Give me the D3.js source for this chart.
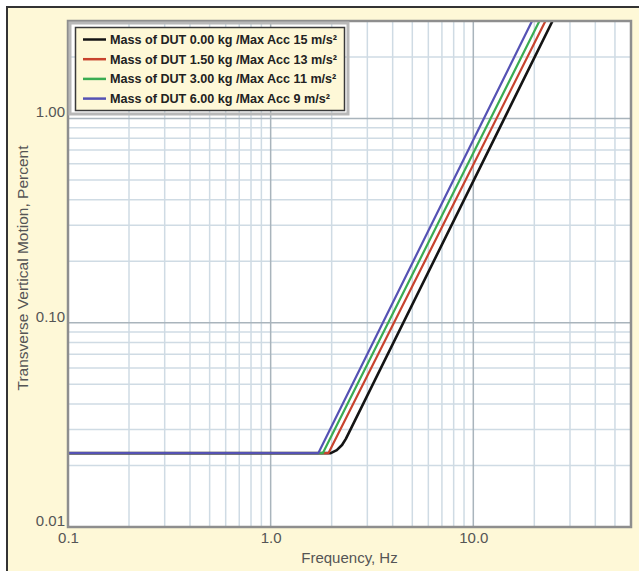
<!DOCTYPE html>
<html lang="en">
<head>
<meta charset="utf-8">
<title>Transverse Vertical Motion</title>
<script src="https://d3js.org/d3.v7.min.js"></script>
<style>
  body { margin: 0; background: #fff; }
  svg text { font-family: "Liberation Sans", Arial, sans-serif; }
</style>
</head>
<body>
<script>
// data
const seriesNames = [
  "Mass of DUT 0.00 kg /Max Acc 15 m/s\u00b2",
  "Mass of DUT 1.50 kg /Max Acc 13 m/s\u00b2",
  "Mass of DUT 3.00 kg /Max Acc 11 m/s\u00b2",
  "Mass of DUT 6.00 kg /Max Acc 9 m/s\u00b2"
];
const mass000 = [[0.1, 0.023], [1.98, 0.023], [2.12, 0.0238], [2.25, 0.0252], [2.35, 0.027], [24.6, 3.0]];
const mass150 = [[0.1, 0.023], [1.93, 0.023], [22.7, 3.0]];
const mass300 = [[0.1, 0.023], [1.81, 0.023], [21.2, 3.0]];
const mass600 = [[0.1, 0.023], [1.72, 0.023], [19.5, 3.0]];
const seriesData = [mass000, mass150, mass300, mass600];
const seriesColors = ["#141414", "#c8432e", "#3aac52", "#5552b4"];

const xTicks = [0.1, 1, 10];
const xTickLabels = ["0.1", "1.0", "10.0"];
const yTicks = [0.01, 0.1, 1];
const yTickLabels = ["0.01", "0.10", "1.00"];
const xDomain = [0.1, 60];
const yDomain = [0.01, 3];

const W = 639, H = 571;
const plot = { left: 68, right: 631, top: 21, bottom: 527 };

const svg = d3.select("body").append("svg")
  .attr("width", W).attr("height", H);

// page background + frame lines
svg.append("rect").attr("x", 7).attr("y", 7).attr("width", W - 7).attr("height", H - 7)
  .attr("fill", "#fef8d7");
svg.append("line").attr("x1", 6).attr("x2", W).attr("y1", 7).attr("y2", 7)
  .attr("stroke", "#333").attr("stroke-width", 2);
svg.append("line").attr("x1", 7).attr("x2", 7).attr("y1", 6).attr("y2", H)
  .attr("stroke", "#333").attr("stroke-width", 2);

const x = d3.scaleLog().domain(xDomain).range([plot.left, plot.right]);
const y = d3.scaleLog().domain(yDomain).range([plot.bottom, plot.top]);

svg.append("rect")
  .attr("x", plot.left).attr("y", plot.top)
  .attr("width", plot.right - plot.left).attr("height", plot.bottom - plot.top)
  .attr("fill", "#fff");

// grid lines, minor then major
const xMinor = [];
for (const dec of [0.1, 1, 10]) for (let k = 2; k <= 9; k++) if (dec * k <= xDomain[1]) xMinor.push(dec * k);
const yMinor = [];
for (const dec of [0.01, 0.1, 1]) for (let k = 2; k <= 9; k++) if (dec * k <= yDomain[1]) yMinor.push(dec * k);

const grid = svg.append("g");
grid.selectAll(".vx").data(xMinor).join("line")
  .attr("x1", d => x(d)).attr("x2", d => x(d))
  .attr("y1", plot.top).attr("y2", plot.bottom)
  .attr("stroke", "#cfdbe4").attr("stroke-width", 1.5);
grid.selectAll(".hy").data(yMinor).join("line")
  .attr("y1", d => y(d)).attr("y2", d => y(d))
  .attr("x1", plot.left).attr("x2", plot.right)
  .attr("stroke", "#cfdbe4").attr("stroke-width", 1.5);
grid.selectAll(".vX").data(xTicks).join("line")
  .attr("x1", d => x(d)).attr("x2", d => x(d))
  .attr("y1", plot.top).attr("y2", plot.bottom)
  .attr("stroke", "#a9b4bc").attr("stroke-width", 1.5);
grid.selectAll(".hY").data(yTicks).join("line")
  .attr("y1", d => y(d)).attr("y2", d => y(d))
  .attr("x1", plot.left).attr("x2", plot.right)
  .attr("stroke", "#a9b4bc").attr("stroke-width", 1.5);

// curves
svg.append("clipPath").attr("id", "clip").append("rect")
  .attr("x", plot.left).attr("y", plot.top)
  .attr("width", plot.right - plot.left).attr("height", plot.bottom - plot.top);

const line = d3.line().x(d => x(d[0])).y(d => y(d[1])).curve(d3.curveLinear);
svg.append("g").attr("clip-path", "url(#clip)")
  .selectAll("path").data(seriesData).join("path")
  .attr("d", line)
  .attr("fill", "none")
  .attr("stroke", (d, i) => seriesColors[i])
  .attr("stroke-width", (d, i) => i == 0 ? 2.6 : 2.2)
  .attr("stroke-linejoin", "round");

// plot border
svg.append("rect")
  .attr("x", plot.left).attr("y", plot.top)
  .attr("width", plot.right - plot.left).attr("height", plot.bottom - plot.top)
  .attr("fill", "none").attr("stroke", "#8e8e8e").attr("stroke-width", 2.5);

// axes
const xAxis = svg.append("g")
  .attr("transform", `translate(0,${plot.bottom})`)
  .call(d3.axisBottom(x).tickValues(xTicks).tickSize(0).tickPadding(5)
    .tickFormat((d, i) => xTickLabels[i]));
xAxis.select(".domain").remove();
xAxis.selectAll("text").attr("font-size", 15).attr("fill", "#555")
  .attr("font-family", "Liberation Sans, Arial, sans-serif");

const yAxis = svg.append("g")
  .attr("transform", `translate(${plot.left},0)`)
  .call(d3.axisLeft(y).tickValues(yTicks).tickSize(0).tickPadding(3)
    .tickFormat((d, i) => yTickLabels[i]));
yAxis.select(".domain").remove();
yAxis.selectAll("text").attr("font-size", 15).attr("fill", "#555")
  .attr("font-family", "Liberation Sans, Arial, sans-serif")
  .attr("dy", "-0.1em");

svg.append("text")
  .attr("x", (plot.left + plot.right) / 2).attr("y", 563)
  .attr("text-anchor", "middle").attr("font-size", 15).attr("fill", "#555")
  .text("Frequency, Hz");

svg.append("text")
  .attr("transform", `translate(28,268) rotate(-90)`)
  .attr("text-anchor", "middle").attr("font-size", 15.5).attr("fill", "#555")
  .text("Transverse Vertical Motion, Percent");

// legend
const lg = svg.append("g");
lg.append("rect").attr("x", 70).attr("y", 23).attr("width", 278).attr("height", 91)
  .attr("fill", "none").attr("stroke", "#b8b8b8").attr("stroke-width", 3);
lg.append("rect").attr("x", 75.5).attr("y", 27.5).attr("width", 269).attr("height", 83)
  .attr("fill", "#fef8d7").attr("stroke", "#3a3a3a").attr("stroke-width", 1.5);
const rows = lg.selectAll(".row").data(seriesNames).join("g")
  .attr("transform", (d, i) => `translate(0,${39.5 + i * 19.7})`);
rows.append("line").attr("x1", 83).attr("x2", 106).attr("y1", 0).attr("y2", 0)
  .attr("stroke", (d, i) => seriesColors[i]).attr("stroke-width", 2.5);
rows.append("text").attr("x", 110).attr("y", 4.5)
  .attr("font-size", 12.6).attr("font-weight", "bold").attr("fill", "#222")
  .text(d => d);
</script>
</body>
</html>
